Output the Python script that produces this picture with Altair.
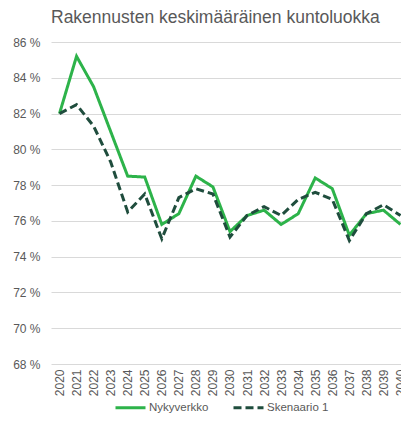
import altair as alt
import pandas as pd

years = list(range(2020, 2041))
nykyverkko = [82.0, 85.2, 83.5, 81.0, 78.5, 78.45, 75.8, 76.4, 78.5, 77.9, 75.4,
              76.3, 76.6, 75.8, 76.4, 78.4, 77.8, 75.2, 76.4, 76.6, 75.8]
skenaario1 = [82.0, 82.5, 81.3, 79.3, 76.5, 77.5, 75.0, 77.3, 77.8, 77.5, 75.1,
              76.3, 76.8, 76.3, 77.2, 77.6, 77.2, 74.9, 76.4, 76.9, 76.3]
series_names = ["Nykyverkko", "Skenaario 1"]
y_ticks = [68, 70, 72, 74, 76, 78, 80, 82, 84, 86]

rows = []
for name, vals in zip(series_names, [nykyverkko, skenaario1]):
    for y, v in zip(years, vals):
        rows.append({"Vuosi": y, "Arvo": v, "Sarja": name})
df = pd.DataFrame(rows)

FONT = "Liberation Sans"
GREY = "#595959"

legend_opts = dict(title=None, orient="none", direction="horizontal",
                   legendX=63, legendY=349, labelColor=GREY, labelFontSize=11.5,
                   labelFont=FONT, symbolType="stroke", symbolSize=900,
                   symbolStrokeWidth=3, columnPadding=18, labelOffset=2)

chart = alt.Chart(df).mark_line(strokeWidth=3).encode(
    x=alt.X("Vuosi:Q",
            scale=alt.Scale(domain=[2019.5015, 2040.03], nice=False, zero=False),
            axis=alt.Axis(title=None, values=years, format="d", labelAngle=270,
                          labelColor=GREY, labelFontSize=12, labelFont=FONT, ticks=False,
                          domain=False, labelPadding=5, grid=False, labelBaseline="middle",
                          labelAlign="right", labelOverlap=False, labelBound=False,
                          labelFlush=False)),
    y=alt.Y("Arvo:Q", scale=alt.Scale(domain=[68, 86], nice=False, zero=False),
            axis=alt.Axis(title=None, values=y_ticks, labelExpr="datum.value + ' %'",
                          labelColor=GREY, labelFontSize=12, labelFont=FONT, ticks=False,
                          domain=False, gridColor="#d9d9d9", gridWidth=1, labelPadding=11)),
    color=alt.Color("Sarja:N", scale=alt.Scale(domain=series_names, range=["#2db34a", "#1f4d3d"]),
                    legend=alt.Legend(**legend_opts)),
    strokeDash=alt.StrokeDash("Sarja:N", scale=alt.Scale(domain=series_names, range=[[1, 0], [8, 4]]),
                              legend=alt.Legend(**legend_opts)),
).properties(
    width=350, height=322,
    autosize=alt.AutoSizeParams(type="none"),
    padding={"left": 43, "top": 34, "right": 0, "bottom": 51},
    title=alt.TitleParams("Rakennusten keskimääräinen kuntoluokka", anchor="start", frame="group",
                          fontSize=17.5, font=FONT, color=GREY, fontWeight="normal", offset=10),
).configure_view(stroke=None)

chart.save("out.html", embed_options={"renderer": "svg", "actions": False})
